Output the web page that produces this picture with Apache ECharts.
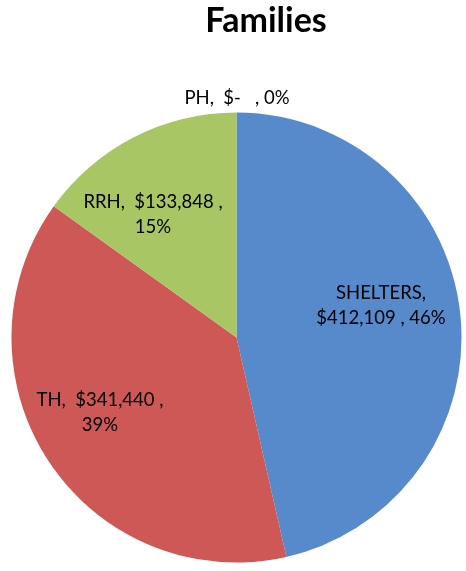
<!DOCTYPE html>
<html>
<head>
<meta charset="utf-8">
<script src="https://cdn.jsdelivr.net/npm/echarts@6/dist/echarts.min.js"></script>
<style>
  html, body { margin: 0; padding: 0; background: #ffffff; }
  #chart { width: 466px; height: 571px; }
</style>
</head>
<body>
<div id="chart"></div>
<script>
// Family program funding by category
const categories = ['SHELTERS', 'TH', 'RRH', 'PH'];
const amounts = [412109, 341440, 133848, 0];
const percentLabels = ['46%', '39%', '15%', '0%'];
const amountLabels = ['$412,109', '$341,440', '$133,848', '$-  '];
const sliceColors = ['#568ACA', '#CD5856', '#A8C664', '#8064A2'];

// label text per slice (line breaks as in the chart)
const labelText = [
  categories[0] + ',\n' + amountLabels[0] + ' , ' + percentLabels[0],
  categories[1] + ',  ' + amountLabels[1] + ' ,\n' + percentLabels[1],
  categories[2] + ',  ' + amountLabels[2] + ' ,\n' + percentLabels[2],
  categories[3] + ',  ' + amountLabels[3] + ' , ' + percentLabels[3]
];

// label anchor points (centre of each text block)
const labelSpots = [
  { x: 381, y: 306 },
  { x: 100, y: 413 },
  { x: 153, y: 215 },
  { x: 237, y: 98 }
];

const chart = echarts.init(document.getElementById('chart'));
chart.setOption({
  animation: false,
  graphic: [{
    type: 'text',
    x: 266,
    y: 21,
    style: {
      text: 'Families',
      align: 'center',
      verticalAlign: 'middle',
      fontFamily: 'Lato',
      fontWeight: 'bold',
      fontSize: 34,
      fill: '#000000'
    }
  }],
  series: [{
    type: 'pie',
    center: [236.5, 337.5],
    radius: 225,
    startAngle: 90,
    clockwise: true,
    avoidLabelOverlap: false,
    stillShowZeroSum: true,
    minShowLabelAngle: 0,
    itemStyle: { borderWidth: 0 },
    label: {
      show: true,
      position: 'inside',
      fontFamily: 'Lato',
      fontSize: 18.5,
      lineHeight: 25,
      color: '#000000',
      align: 'center',
      verticalAlign: 'middle',
      formatter: p => labelText[p.dataIndex]
    },
    labelLine: { show: false },
    labelLayout: p => ({
      x: labelSpots[p.dataIndex].x,
      y: labelSpots[p.dataIndex].y,
      align: 'center',
      verticalAlign: 'middle'
    }),
    emphasis: { disabled: true },
    data: categories.map((name, i) => ({
      name: name,
      value: amounts[i],
      itemStyle: { color: sliceColors[i] }
    }))
  }]
});
</script>
</body>
</html>
